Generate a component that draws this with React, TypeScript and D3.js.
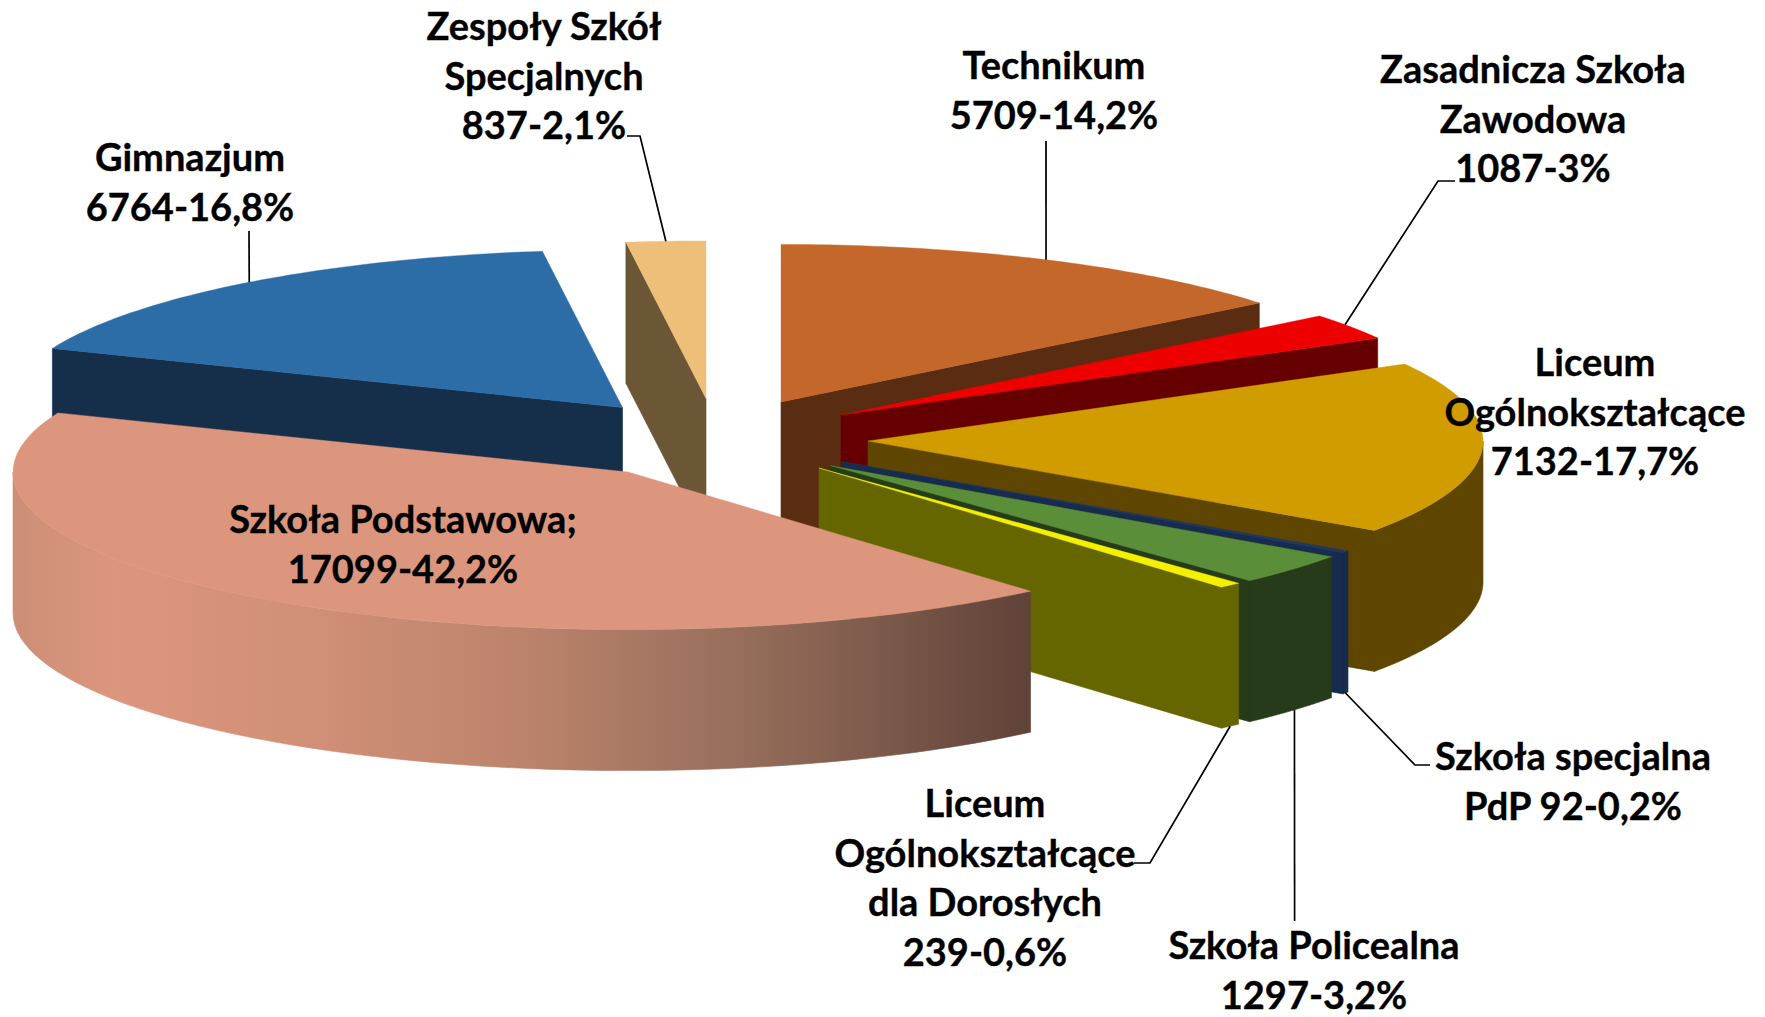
import React from "react";
import * as d3 from "d3";

const W = 1765, H = 1017;

// ---- data ----
const categories = ["Technikum", "Zasadnicza Szkoła Zawodowa", "Liceum Ogólnokształcące", "Szkoła specjalna PdP", "Szkoła Policealna", "Liceum Ogólnokształcące dla Dorosłych", "Szkoła Podstawowa", "Gimnazjum", "Zespoły Szkół Specjalnych"];
const students = [5709, 1087, 7132, 92, 1297, 239, 17099, 6764, 837];
const labelLines = [
  ["Technikum", "5709-14,2%"],
  ["Zasadnicza Szkoła", "Zawodowa", "1087-3%"],
  ["Liceum", "Ogólnokształcące", "7132-17,7%"],
  ["Szkoła specjalna", "PdP 92-0,2%"],
  ["Szkoła Policealna", "1297-3,2%"],
  ["Liceum", "Ogólnokształcące", "dla Dorosłych", "239-0,6%"],
  ["Szkoła Podstawowa;", "17099-42,2%"],
  ["Gimnazjum", "6764-16,8%"],
  ["Zespoły Szkół", "Specjalnych", "837-2,1%"],
];

// ---- styling and layout ----
const topColors = ["#C4672A", "#EE0000", "#D09C00", "#1F3864", "#5A8E39", "#F5F000", "#DD967E", "#2C6DA8", "#EDBF79"];
const wallColors = ["#5A2D12", "#660000", "#5E4500", "#172B4D", "#253B1A", "#666600", "url(#rimFade)", "#152F4B", "#6B5635"];
const sliceCenters: [number, number][] = [[781, 402], [841, 415], [868, 441], [841.5, 461.7], [830, 465.5], [819, 468], [628, 472], [622.5, 407.5], [706, 398.5]];
const drawOrder = [8, 0, 7, 1, 2, 3, 4, 5, 6];
const labelCenters: [number, number][] = [[1054, 66], [1533, 70], [1595, 363], [1573, 757], [1314, 946], [985, 804], [403, 520], [190, 158], [544, 27]];
// leader elbows; the first point of each leader is derived from the slice itself
const leaderElbows: ([number, number][] | null)[] = [[[1046, 141]], [[1438, 181], [1455, 181]], null, [[1415, 765], [1430, 765]], [[1294.6, 921]], [[1150, 863], [1134, 863]], null, [[249, 231]], [[640, 136], [627, 136]]];
const leaderFraction = [0.5, 0.41, 0.5, 0.5, 0.481, 0.5, 0.5, 0.506, 0.5];
const leaderFromBase = [false, false, false, true, true, true, false, false, false];
const lineHeight = 49.6;
const RX = 615, RY = 157.6, DEPTH = 141;
const FONT = "Lato, Carlito, Calibri, sans-serif";

const unit = d3.scaleLinear().domain([-1, 1]);
const sx = unit.copy().range([-RX, RX]);
const sy = unit.copy().range([-RY, RY]);

const arcs = d3.pie<number>().sort(null).startAngle(0).endAngle(2 * Math.PI).value((d) => d)(students);

const rim = (i: number, a: number, dz = 0): [number, number] => [
  sliceCenters[i][0] + sx(Math.sin(a)),
  sliceCenters[i][1] + sy(-Math.cos(a)) + dz,
];
const sweep = (i: number, a0: number, a1: number, dz = 0) =>
  d3.range(0, 61).map((k) => rim(i, a0 + ((a1 - a0) * k) / 60, dz));
const line = d3.line();
const closed = (pts: [number, number][]) => line(pts) + "Z";

function Slice({ i }: { i: number }) {
  const { startAngle: a0, endAngle: a1 } = arcs[i];
  const c = sliceCenters[i];
  const below = (p: [number, number]): [number, number] => [p[0], p[1] + DEPTH];
  const walls: string[] = [];
  if (a0 > Math.PI) walls.push(closed([c, rim(i, a0), below(rim(i, a0)), below(c)]));
  if (a1 < Math.PI) walls.push(closed([c, rim(i, a1), below(rim(i, a1)), below(c)]));
  const w0 = Math.max(a0, Math.PI / 2), w1 = Math.min(a1, (3 * Math.PI) / 2);
  if (w1 > w0) walls.push(closed([...sweep(i, w0, w1), ...sweep(i, w0, w1, DEPTH).reverse()]));
  return (
    <g>
      <path d={walls.join("")} fill={wallColors[i]} stroke={wallColors[i]} strokeWidth={0.6} />
      <path d={closed([c, ...sweep(i, a0, a1)])} fill={topColors[i]} stroke={topColors[i]} strokeWidth={0.4} />
    </g>
  );
}

function Leader({ i }: { i: number }) {
  const elbows = leaderElbows[i];
  if (!elbows) return null;
  const at = arcs[i].startAngle + (arcs[i].endAngle - arcs[i].startAngle) * leaderFraction[i];
  const start = rim(i, at, leaderFromBase[i] ? DEPTH : 0);
  return <path d={line([start, ...elbows]) as string} fill="none" stroke="#000" strokeWidth={1.7} />;
}

export default function App() {
  return (
    <svg width={W} height={H} viewBox={`0 0 ${W} ${H}`} style={{ position: "absolute", left: 0, top: 0, background: "#fff" }}>
      <defs>
        <linearGradient id="rimFade" gradientUnits="userSpaceOnUse" x1={13} x2={1030} y1={0} y2={0}>
          <stop offset="0" stopColor="#CC8E77" />
          <stop offset="0.1" stopColor="#DC967D" />
          <stop offset="0.3" stopColor="#D08F76" />
          <stop offset="0.5" stopColor="#BC836C" />
          <stop offset="0.7" stopColor="#99705D" />
          <stop offset="0.85" stopColor="#7D5A4B" />
          <stop offset="1" stopColor="#5F4238" />
        </linearGradient>
      </defs>
      {drawOrder.map((i) => (
        <Slice key={categories[i]} i={i} />
      ))}
      {drawOrder.map((i) => (
        <Leader key={categories[i]} i={i} />
      ))}
      {labelLines.map((lines, i) => (
        <text key={categories[i]} textAnchor="middle" fontFamily={FONT} fontWeight={700} fontSize={38} fill="#000" stroke="#000" strokeWidth={0.35}>
          {lines.map((t, k) => (
            <tspan key={k} x={labelCenters[i][0]} y={labelCenters[i][1] + k * lineHeight + 13}>
              {t}
            </tspan>
          ))}
        </text>
      ))}
    </svg>
  );
}
